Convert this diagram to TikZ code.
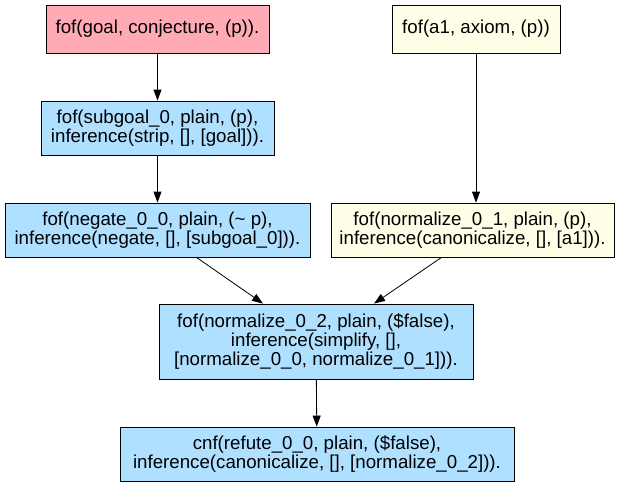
\documentclass[tikz,border=0pt]{standalone}
\usepackage{fontspec}
\setmainfont{Liberation Sans}
\usetikzlibrary{arrows.meta}

\definecolor{goalpink}{RGB}{255,170,180}
\definecolor{steplblue}{RGB}{176,224,255}
\definecolor{axiomcream}{RGB}{255,255,232}

\tikzset{
	clause/.style={rectangle, draw, line width=0.8pt, inner sep=0pt, align=center,
		font=\fontsize{18.7}{18.6}\selectfont},
	edge/.style={-{Triangle[length=11pt,width=8pt]}, line width=0.8pt},
}

\begin{document}
\begin{tikzpicture}[x=1pt, y=-1pt]
\useasboundingbox (0,0) rectangle (623,485);

% leaves
\node[clause, fill=goalpink, minimum width=223pt, minimum height=48pt]
	(goal) at (157.5,29) {fof(goal, conjecture, (p)).};
\node[clause, fill=axiomcream, minimum width=168pt, minimum height=48pt]
	(a1) at (476,29) {fof(a1, axiom, (p))};

% inferences
\node[clause, fill=steplblue, minimum width=233pt, minimum height=54pt]
	(subgoal) at (157.5,128) {fof(subgoal\_0, plain, (p),\\inference(strip, [], [goal])).};
\node[clause, fill=steplblue, minimum width=305pt, minimum height=54pt]
	(negate) at (157.5,230) {fof(negate\_0\_0, plain, (\textasciitilde{} p),\\inference(negate, [], [subgoal\_0])).};
\node[clause, fill=axiomcream, minimum width=283pt, minimum height=54pt]
	(normone) at (472.5,230) {fof(normalize\_0\_1, plain, (p),\\inference(canonicalize, [], [a1])).};
\node[clause, fill=steplblue, minimum width=314pt, minimum height=75pt]
	(normtwo) at (316,341.5) {fof(normalize\_0\_2, plain, (\$false),\\inference(simplify, [],\\{}[normalize\_0\_0, normalize\_0\_1])).};
\node[clause, fill=steplblue, minimum width=394pt, minimum height=54pt]
	(refute) at (317,454) {cnf(refute\_0\_0, plain, (\$false),\\inference(canonicalize, [], [normalize\_0\_2])).};

\foreach \u \v in {
	goal/subgoal,subgoal/negate%
	,normtwo/refute%
}{
	\draw[edge] (\u) -- (\v);
}
\draw[edge] (a1.south) -- (a1.south |- normone.north);
\draw[edge] ([xshift=39pt]negate.south) -- ([xshift=-53pt]normtwo.north);
\draw[edge] ([xshift=-31pt]normone.south) -- ([xshift=58pt]normtwo.north);
\end{tikzpicture}
\end{document}
